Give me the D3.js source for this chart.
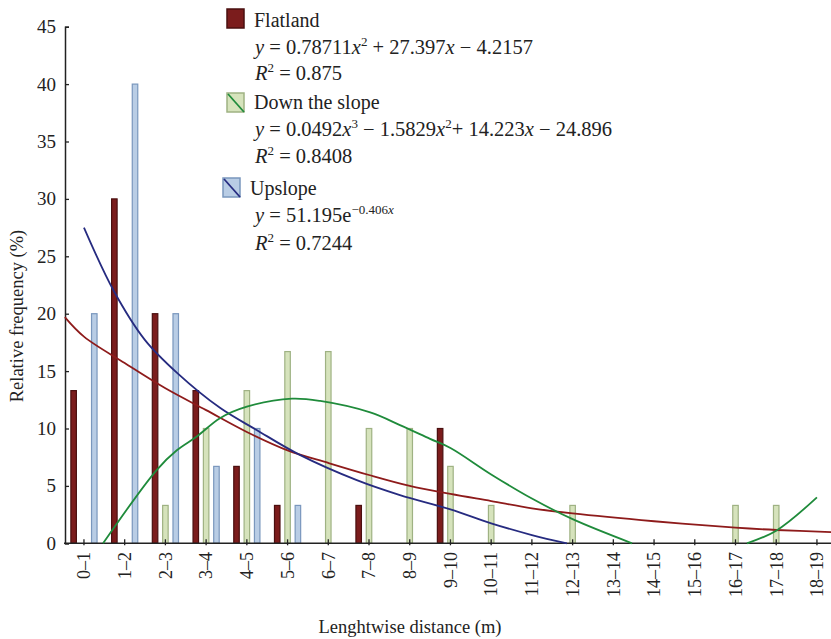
<!DOCTYPE html>
<html>
<head>
<meta charset="utf-8">
<script src="https://cdn.jsdelivr.net/npm/d3@7/dist/d3.min.js"></script>
<style>
  body { margin: 0; background: #fff; }
  text { font-family: "Liberation Serif", "DejaVu Serif", serif; fill: #222; }
</style>
</head>
<body>
<svg id="chart" width="831" height="639"></svg>
<script>
var categories = ["0–1", "1–2", "2–3", "3–4", "4–5", "5–6", "6–7", "7–8", "8–9", "9–10",
                  "10–11", "11–12", "12–13", "13–14", "14–15", "15–16", "16–17", "17–18", "18–19"];
var flatland  = [13.3, 30, 20, 13.3, 6.7, 3.3, 0, 3.3, 0, 10, 0, 0, 0, 0, 0, 0, 0, 0, 0];
var downSlope = [0, 0, 3.3, 10, 13.3, 16.7, 16.7, 10, 10, 6.7, 3.3, 0, 3.3, 0, 0, 0, 3.3, 3.3, 0];
var upslope   = [20, 40, 20, 6.7, 10, 3.3, 0, 0, 0, 0, 0, 0, 0, 0, 0, 0, 0, 0, 0];
var yTicks = [0, 5, 10, 15, 20, 25, 30, 35, 40, 45];

// trend lines as [category position, %]
var flatlandTrend = [[-0.47, 19.7], [0, 18.0], [1, 15.7], [2, 13.5], [3, 11.6], [4, 9.7], [5, 8.1], [6, 7.0],
                     [7, 5.95], [8, 5.0], [9, 4.3], [10, 3.68], [11, 3.05], [12, 2.6], [14, 1.92], [16, 1.36],
                     [17, 1.16], [18.35, 0.98]];
var upslopeTrend = [[0, 27.5], [0.73, 22.0], [1.5, 17.7], [2.3, 14.8], [3.34, 11.8], [4.24, 9.87], [5.3, 7.7],
                    [6.7, 5.5], [7.76, 4.2], [9, 2.96], [10, 1.74], [11, 0.72], [11.86, 0]];
var downSlopeTrend = [[0.47, 0], [1.79, 6.4], [2.28, 8.1], [2.77, 9.3], [3.34, 10.9], [4.0, 11.9], [5.11, 12.6],
                      [5.8, 12.4], [7.03, 11.4], [7.76, 10.3], [8.5, 9.1], [9, 8.3], [10, 6.0], [11, 3.9],
                      [12, 2.1], [13.46, 0]];
var downSlopeTrendEnd = [[16.28, 0], [17, 1.1], [18, 4.0]];

var seriesNames = ["Flatland", "Down the slope", "Upslope"];

var svg = d3.select("#chart");

var x = d3.scaleBand()
    .domain(categories)
    .range([63.6, 837.3]);

var y = d3.scaleLinear()
    .domain([0, 45])
    .range([543.3, 26.7]);

// position of the three bars inside a category
var keys = ["flatland", "downSlope", "upslope"];
var x1 = d3.scaleBand().domain(keys).range([-15.5, 15.5]);
var barW = 5.5;

// continuous scale for trend lines (category index -> centre)
var xi = d3.scaleLinear()
    .domain([0, categories.length - 1])
    .range([x(categories[0]) + x.bandwidth() / 2, x(categories[categories.length - 1]) + x.bandwidth() / 2]);

var fills   = {flatland: "#7b1c1c", downSlope: "#d6e3bc", upslope: "#b9cde5"};
var strokes = {flatland: "#4a0f0f", downSlope: "#9fb283", upslope: "#7a97bd"};
var trendColour = {flatland: "#8e1b1b", downSlope: "#1f8b3b", upslope: "#262b80"};

var table = categories.map(function(c, i) {
    return {cat: c, flatland: flatland[i], downSlope: downSlope[i], upslope: upslope[i]};
});

// bars
svg.append("g")
  .selectAll("g")
  .data(table)
  .enter().append("g")
    .attr("transform", function(d) { return "translate(" + (x(d.cat) + x.bandwidth() / 2) + ",0)"; })
  .selectAll("rect")
  .data(function(d) { return keys.map(function(k) { return {key: k, value: d[k]}; }); })
  .enter().append("rect")
    .attr("x", function(d) { return x1(d.key) + x1.bandwidth() / 2 - barW / 2; })
    .attr("y", function(d) { return y(d.value); })
    .attr("width", barW)
    .attr("height", function(d) { return y(0) - y(d.value); })
    .attr("fill", function(d) { return fills[d.key]; })
    .attr("stroke", function(d) { return d.value === 0 ? "#555" : strokes[d.key]; })
    .attr("stroke-width", 1.2);

// x axis
svg.append("line")
    .attr("x1", 64).attr("x2", 831)
    .attr("y1", y(0)).attr("y2", y(0))
    .attr("stroke", "#222").attr("stroke-width", 1.5);

svg.append("g")
  .selectAll("line")
  .data(categories)
  .enter().append("line")
    .attr("x1", function(d) { return x(d) + x.bandwidth() / 2; })
    .attr("x2", function(d) { return x(d) + x.bandwidth() / 2; })
    .attr("y1", y(0) - 4).attr("y2", y(0) + 2)
    .attr("stroke", "#222").attr("stroke-width", 1.3);

svg.append("g")
  .selectAll("text")
  .data(categories)
  .enter().append("text")
    .attr("transform", function(d) { return "translate(" + (x(d) + x.bandwidth() / 2) + ",552) rotate(-90)"; })
    .attr("text-anchor", "end")
    .attr("dy", "0.35em")
    .style("font-size", "18px")
    .text(function(d) { return d; });

// y axis
var yAxis = svg.append("g")
    .attr("transform", "translate(65,0)")
    .call(d3.axisLeft(y).tickValues(yTicks).tickSizeInner(-4).tickSizeOuter(-4).tickPadding(9));
yAxis.select(".domain").attr("stroke", "#222").attr("stroke-width", 1.5);
yAxis.selectAll(".tick line").attr("stroke", "#222").attr("stroke-width", 1.3);
yAxis.selectAll(".tick text")
    .style("font-family", "\"Liberation Serif\", serif")
    .style("font-size", "19px")
    .attr("fill", "#222");

// trend lines
var line = d3.line()
    .x(function(d) { return xi(d[0]); })
    .y(function(d) { return y(d[1]); })
    .curve(d3.curveCatmullRom.alpha(0.5));

var trends = [
    {key: "flatland", pts: flatlandTrend},
    {key: "upslope", pts: upslopeTrend},
    {key: "downSlope", pts: downSlopeTrend},
    {key: "downSlope", pts: downSlopeTrendEnd}
];
svg.append("g")
  .selectAll("path")
  .data(trends)
  .enter().append("path")
    .attr("d", function(d) { return line(d.pts); })
    .attr("fill", "none")
    .attr("stroke", function(d) { return trendColour[d.key]; })
    .attr("stroke-width", 1.8);

// axis titles
svg.append("text")
    .attr("x", 410).attr("y", 633)
    .attr("text-anchor", "middle")
    .style("font-size", "18.5px")
    .text("Lenghtwise distance (m)");

svg.append("text")
    .attr("transform", "translate(23,316) rotate(-90)")
    .attr("text-anchor", "middle")
    .style("font-size", "18.5px")
    .text("Relative frequency (%)");

// legend
var legend = [
    {key: "flatland", box: [227, 9], name: seriesNames[0], nameY: 27,
     eq: [["y", "i"], [" = 0.78711"], ["x", "i"], ["2", "s"], [" + 27.397"], ["x", "i"], [" − 4.2157"]], eqY: 54,
     r2: "0.875", r2Y: 80},
    {key: "downSlope", box: [227, 93], name: seriesNames[1], nameY: 109,
     eq: [["y", "i"], [" = 0.0492"], ["x", "i"], ["3", "s"], [" − 1.5829"], ["x", "i"], ["2", "s"], ["+ 14.223"], ["x", "i"], [" − 24.896"]], eqY: 136,
     r2: "0.8408", r2Y: 163},
    {key: "upslope", box: [223, 178], name: seriesNames[2], nameY: 195,
     eq: [["y", "i"], [" = 51.195e"], ["−0.406", "s"], ["x", "si"]], eqY: 222,
     r2: "0.7244", r2Y: 250}
];

var lg = svg.append("g").selectAll("g").data(legend).enter().append("g");

lg.append("rect")
    .attr("x", function(d) { return d.box[0]; })
    .attr("y", function(d) { return d.box[1]; })
    .attr("width", 17).attr("height", 19)
    .attr("fill", function(d) { return fills[d.key]; })
    .attr("stroke", function(d) { return strokes[d.key]; })
    .attr("stroke-width", 1.5);

lg.filter(function(d) { return d.key !== "flatland"; })
  .append("line")
    .attr("x1", function(d) { return d.box[0] + 1; })
    .attr("y1", function(d) { return d.box[1] + 1; })
    .attr("x2", function(d) { return d.box[0] + 17; })
    .attr("y2", function(d) { return d.box[1] + 19; })
    .attr("stroke", function(d) { return trendColour[d.key]; })
    .attr("stroke-width", 1.8);

lg.append("text")
    .attr("x", function(d) { return d.box[0] + 27; })
    .attr("y", function(d) { return d.nameY; })
    .style("font-size", "20px")
    .text(function(d) { return d.name; });

lg.each(function(d) {
    var g = d3.select(this);
    var t = g.append("text")
        .attr("x", 255).attr("y", d.eqY)
        .style("font-size", "20.5px");
    var shifted = false;
    d.eq.forEach(function(p) {
        var s = t.append("tspan").text(p[0]);
        var sup = p[1] && p[1].indexOf("s") >= 0;
        if (p[1] && p[1].indexOf("i") >= 0) s.style("font-style", "italic");
        if (sup) {
            s.style("font-size", "13px");
            if (!shifted) s.attr("dy", -8);
            shifted = true;
        } else if (shifted) {
            s.attr("dy", 8);
            shifted = false;
        }
    });
    var r = g.append("text")
        .attr("x", 255).attr("y", d.r2Y)
        .style("font-size", "20.5px");
    r.append("tspan").style("font-style", "italic").text("R");
    r.append("tspan").attr("dy", -8).style("font-size", "13px").text("2");
    r.append("tspan").attr("dy", 8).text(" = " + d.r2);
});
</script>
</body>
</html>
